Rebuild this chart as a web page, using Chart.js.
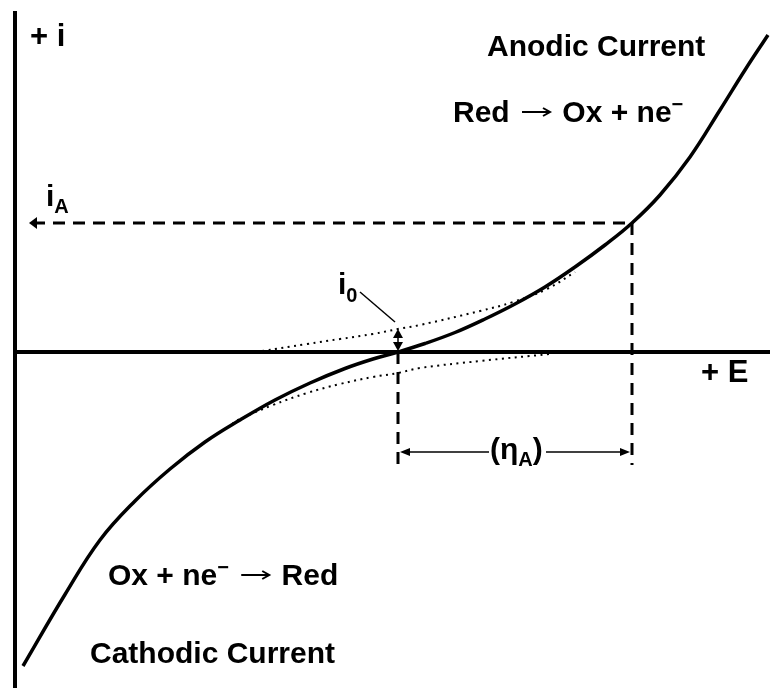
<!DOCTYPE html>
<html>
<head>
<meta charset="utf-8">
<script src="https://cdn.jsdelivr.net/npm/chart.js@4"></script>
<style>
  html, body { margin: 0; padding: 0; background: #fff; }
  #wrap { width: 770px; height: 688px; position: relative; }
</style>
</head>
<body>
<div id="wrap"><canvas id="myChart"></canvas></div>
<script>
// polarisation curve: potential E vs current i (arbitrary units)
const curveE = [0.16, 1.00, 1.70, 2.40, 3.10, 3.80, 4.50, 5.20, 5.90, 6.60, 7.16, 7.66, 8.20, 8.80, 9.40, 10.00, 10.60, 11.20, 11.80, 12.34, 12.90, 13.50, 14.10, 14.60, 15.06];
const curveI = [-6.28, -4.85, -3.76, -2.98, -2.34, -1.80, -1.36, -0.96, -0.62, -0.33, -0.14, 0.00, 0.17, 0.39, 0.66, 0.96, 1.30, 1.70, 2.14, 2.58, 3.14, 3.90, 4.84, 5.64, 6.34];

// anodic partial current (dotted, above the axis)
const anodicE = [4.94, 5.84, 6.50, 7.16, 7.66, 8.10, 9.30, 9.96, 10.64, 11.20];
const anodicI = [0.02, 0.16, 0.26, 0.36, 0.46, 0.54, 0.82, 1.00, 1.26, 1.60];

// cathodic partial current (dotted, below the axis)
const cathodicE = [4.34, 4.50, 5.16, 5.84, 6.50, 7.16, 7.66, 8.10, 9.30, 10.70];
const cathodicI = [-1.44, -1.34, -1.06, -0.82, -0.64, -0.50, -0.42, -0.32, -0.18, -0.04];

const eqE = 7.66;      // equilibrium potential
const anodE = 12.34;   // applied anodic potential
const iA = 2.58;       // anodic current at anodE
const i0 = 0.46;       // exchange current
const etaI = -2.0;     // level of the overpotential arrow
const dropI = -2.26;   // lower end of the vertical guides

const xMin = -0.3, xMax = 15.1, yMin = -6.72, yMax = 7.04;

function pts(xs, ys) {
    return xs.map(function (x, k) { return { x: x, y: ys[k] }; });
}

function line(data, width, dash) {
    return {
        data: data,
        borderColor: '#000',
        borderWidth: width,
        borderDash: dash || [],
        pointRadius: 0,
        fill: false,
        showLine: true
    };
}

function arrowHead(ctx, x, y, dx, dy, len, half) {
    // tip at (x, y), pointing along (dx, dy)
    ctx.beginPath();
    ctx.moveTo(x, y);
    ctx.lineTo(x - dx * len - dy * half, y - dy * len + dx * half);
    ctx.lineTo(x - dx * len + dy * half, y - dy * len - dx * half);
    ctx.closePath();
    ctx.fill();
}

function runs(ctx, x, y, parts) {
    parts.forEach(function (p) {
        if (p.arrow) {
            // reaction arrow drawn as a thin stroke with an open head
            const ay = y - 10;
            ctx.save();
            ctx.lineWidth = 2;
            ctx.strokeStyle = '#000';
            ctx.beginPath();
            ctx.moveTo(x, ay);
            ctx.lineTo(x + p.arrow, ay);
            ctx.moveTo(x + p.arrow - 7, ay - 4);
            ctx.lineTo(x + p.arrow, ay);
            ctx.lineTo(x + p.arrow - 7, ay + 4);
            ctx.stroke();
            ctx.restore();
            x += p.arrow + (p.gap || 0);
            return;
        }
        ctx.font = (p.w || 'bold') + ' ' + p.s + 'px "Liberation Sans", Arial, sans-serif';
        ctx.fillText(p.t, x, y + (p.dy || 0));
        x += ctx.measureText(p.t).width + (p.gap || 0);
    });
    return x;
}

const labels = {
    id: 'labels',
    afterDatasetsDraw: function (chart) {
        const ctx = chart.ctx;
        const sx = chart.scales.x, sy = chart.scales.y;
        ctx.save();
        ctx.fillStyle = '#000';
        ctx.textBaseline = 'alphabetic';

        // arrow heads
        arrowHead(ctx, sx.getPixelForValue(0.28), sy.getPixelForValue(iA), -1, 0, 8, 6);
        arrowHead(ctx, sx.getPixelForValue(eqE), sy.getPixelForValue(i0), 0, -1, 9, 5);
        arrowHead(ctx, sx.getPixelForValue(eqE), sy.getPixelForValue(0) - 1, 0, 1, 9, 5);
        arrowHead(ctx, sx.getPixelForValue(eqE) + 2, sy.getPixelForValue(etaI), -1, 0, 10, 4);
        arrowHead(ctx, sx.getPixelForValue(anodE) - 2, sy.getPixelForValue(etaI), 1, 0, 10, 4);

        // overpotential label on a white patch
        ctx.fillStyle = '#fff';
        ctx.fillRect(489, 436, 57, 30);
        ctx.fillStyle = '#000';
        runs(ctx, 490, 459, [
            { t: '(η', s: 30 },
            { t: 'A', s: 20, dy: 7 },
            { t: ')', s: 30 }
        ]);

        runs(ctx, 30, 46, [{ t: '+ i', s: 31 }]);
        runs(ctx, 701, 382, [{ t: '+ E', s: 31 }]);
        runs(ctx, 487, 56, [{ t: 'Anodic Current', s: 30 }]);
        runs(ctx, 90, 663, [{ t: 'Cathodic Current', s: 30 }]);

        runs(ctx, 453, 122, [
            { t: 'Red ', s: 30, gap: 4 },
            { arrow: 28, gap: 4 },
            { t: ' Ox + ne', s: 30 },
            { t: '−', s: 20, dy: -11 }
        ]);
        runs(ctx, 108, 585, [
            { t: 'Ox + ne', s: 30 },
            { t: '−', s: 20, dy: -11 },
            { t: ' ', s: 30, gap: 4 },
            { arrow: 28, gap: 4 },
            { t: ' Red', s: 30 }
        ]);

        runs(ctx, 46, 206, [
            { t: 'i', s: 30 },
            { t: 'A', s: 20, dy: 7 }
        ]);
        runs(ctx, 338, 294, [
            { t: 'i', s: 30 },
            { t: '0', s: 20, dy: 8 }
        ]);
        ctx.restore();
    }
};

const datasets = [
    line([{ x: 0, y: yMin }, { x: 0, y: 6.82 }], 4),
    line([{ x: 0, y: 0 }, { x: xMax, y: 0 }], 4),
    Object.assign(line(pts(curveE, curveI), 3.5), { tension: 0.4 }),
    Object.assign(line(pts(anodicE, anodicI), 2, [2, 4.5]), { tension: 0.4 }),
    Object.assign(line(pts(cathodicE, cathodicI), 2, [2, 4.5]), { tension: 0.4 }),
    line([{ x: 0.36, y: iA }, { x: anodE, y: iA }], 3, [12, 8]),
    line([{ x: eqE, y: 0 }, { x: eqE, y: dropI }], 3, [12, 8]),
    line([{ x: anodE, y: iA }, { x: anodE, y: dropI }], 3, [12, 8]),
    line([{ x: eqE, y: 0.1 }, { x: eqE, y: i0 - 0.1 }], 1.5),
    line([{ x: eqE + 0.1, y: etaI }, { x: anodE - 0.1, y: etaI }], 1.5),
    line([{ x: 6.9, y: 1.2 }, { x: 7.6, y: 0.6 }], 1.5)
];

const chart = new Chart(document.getElementById('myChart').getContext('2d'), {
    type: 'scatter',
    data: { datasets: datasets },
    options: {
        responsive: true,
        maintainAspectRatio: false,
        animation: false,
        layout: { padding: 0 },
        plugins: { legend: { display: false }, tooltip: { enabled: false } },
        scales: {
            x: { type: 'linear', display: false, min: xMin, max: xMax },
            y: { type: 'linear', display: false, min: yMin, max: yMax }
        }
    },
    plugins: [labels]
});
</script>
</body>
</html>
